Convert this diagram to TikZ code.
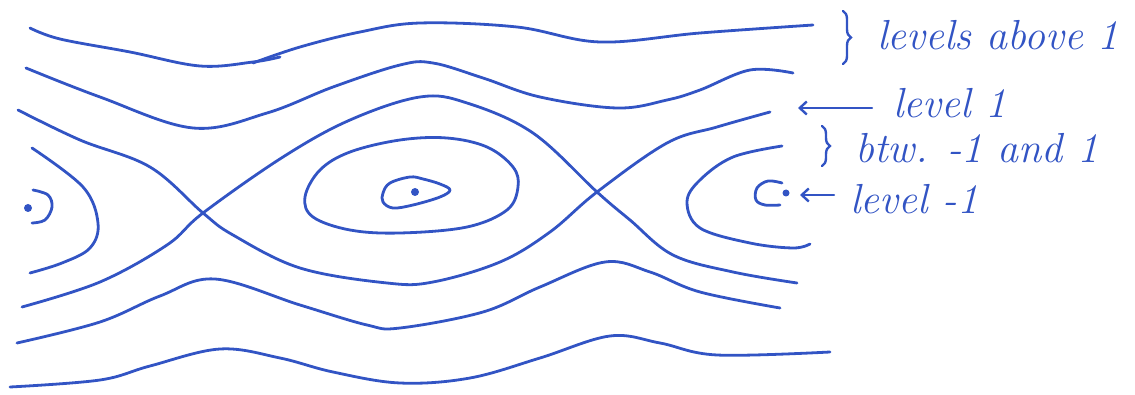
\documentclass[tikz,border=0pt]{standalone}
\usetikzlibrary{arrows.meta,decorations.pathreplacing}
\definecolor{ink}{RGB}{50,84,196}
\begin{document}
\begin{tikzpicture}[x=1pt,y=-1pt,
  curve/.style={ink,line width=2.8pt,line cap=round,line join=round},
  lbl/.style={ink,anchor=base west,inner sep=0pt,font=\fontsize{42}{46}\selectfont\itshape},
  hbrace/.style={ink,line width=2.4pt,line cap=round,decorate,decoration={brace,amplitude=8pt}},
  harrow/.style={ink,line width=2.4pt,line cap=round,-{Straight Barb[length=7pt,width=13pt]}}]
\useasboundingbox (0,0) rectangle (1135,395);
% top curve (two strokes)
\draw[curve] plot[smooth,tension=0.6] coordinates {(30,28) (60,39) (130,52) (200,66) (253,62) (280,57)};
\draw[curve] plot[smooth,tension=0.6] coordinates {(253,63) (300,47) (360,32) (420,23) (517,27) (600,42) (700,33) (813,25)};
% second curve
\draw[curve] plot[smooth,tension=0.6] coordinates {(26,68) (100,97) (193,128) (267,113) (333,87) (400,65) (433,63) (483,78) (540,97) (617,108) (667,100) (700,90) (750,70) (793,73)};
% separatrices
\draw[curve] plot[smooth,tension=0.6] coordinates {(18,110) (80,140) (150,167) (203,213) (233,235) (300,268) (387,283) (433,282) (500,262) (550,232) (597,192) (667,143) (717,127) (770,112)};
\draw[curve] plot[smooth,tension=0.6] coordinates {(22,307) (100,282) (167,245) (203,213) (283,157) (350,120) (420,97) (467,103) (533,133) (597,192) (630,220) (673,255) (733,272) (797,283)};
% closed orbit
\draw[curve] plot[smooth cycle,tension=0.6] coordinates {(305,197) (320,170) (350,152) (400,140) (447,138) (487,147) (513,167) (518,187) (507,210) (467,227) (400,233) (350,230) (313,217)};
% small orbit
\draw[curve] plot[smooth cycle,tension=0.6] coordinates {(383,193) (390,183) (410,177) (423,179) (440,184) (450,190) (440,197) (413,205) (393,208) (383,202)};
\fill[ink] (415,192) circle (4pt);
% left open orbit
\draw[curve] plot[smooth,tension=0.6] coordinates {(32,148) (83,187) (98,223) (90,248) (62,263) (30,273)};
\fill[ink] (28,208) circle (4pt);
\draw[curve] plot[smooth,tension=0.6] coordinates {(33,190) (48,195) (52,207) (45,220) (32,223)};
% right open orbit
\draw[curve] plot[smooth,tension=0.6] coordinates {(782,146) (733,157) (700,180) (687,202) (700,228) (750,243) (793,248) (810,244)};
\draw[curve] plot[smooth,tension=0.6] coordinates {(782,183) (768,181) (757,188) (756,200) (765,205) (780,205)};
\fill[ink] (786,193) circle (3.5pt);
% lower curves
\draw[curve] plot[smooth,tension=0.6] coordinates {(17,343) (100,322) (160,296) (215,279) (300,305) (367,325) (400,328) (483,312) (540,287) (605,262) (650,272) (700,292) (780,308)};
\draw[curve] plot[smooth,tension=0.6] coordinates {(10,387) (100,380) (150,366) (220,349) (280,358) (333,372) (400,383) (470,378) (540,358) (610,336) (660,343) (717,355) (830,352)};
% labels
\node[lbl] (above) at (877,50) {levels above 1};
\node[lbl] (one) at (893,118) {level 1};
\node[lbl] (btw) at (855,163) {btw. -1 and 1};
\node[lbl] (minus) at (850,214) {level -1};
\coordinate (b1t) at (843,11); \coordinate (b1b) at (843,64);
\coordinate (b2t) at (822,126); \coordinate (b2b) at (822,166);
\draw[hbrace] (b1t) -- (b1b);
\draw[hbrace] (b2t) -- (b2b);
\coordinate (t1) at (798,108); \coordinate (s1) at (872,108);
\coordinate (t2) at (800,195); \coordinate (s2) at (834,195);
\draw[harrow] (s1) -- (t1);
\draw[harrow] (s2) -- (t2);
\end{tikzpicture}
\end{document}
